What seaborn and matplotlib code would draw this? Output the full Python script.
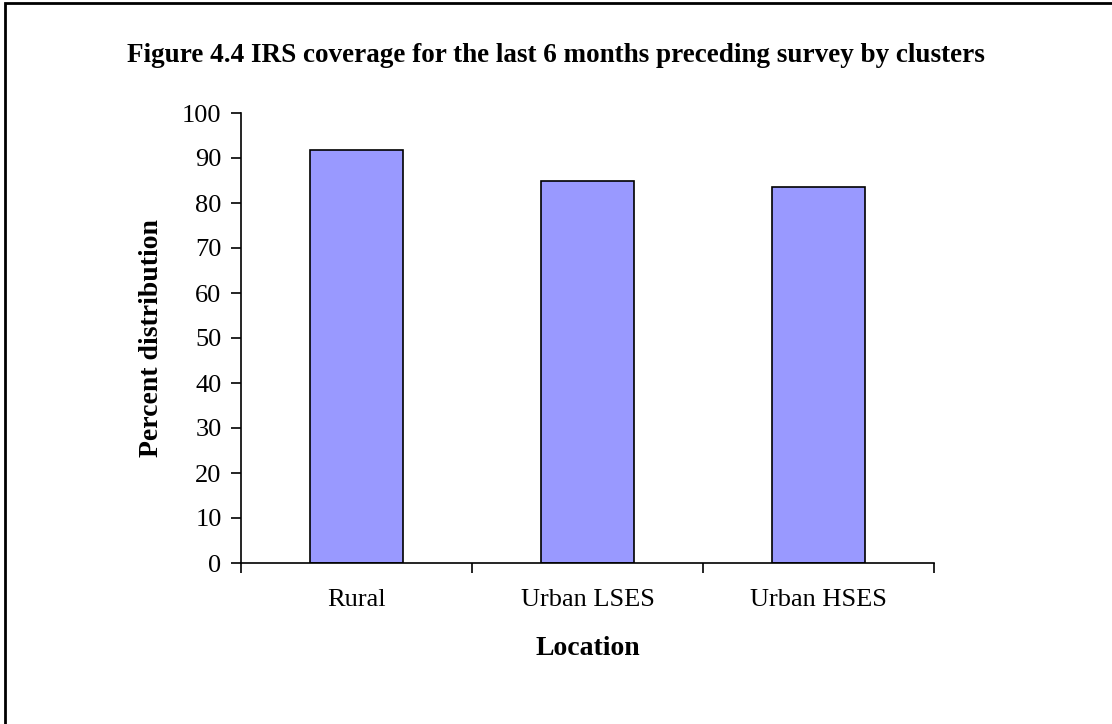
import matplotlib
matplotlib.use('Agg')
import matplotlib.pyplot as plt
import pandas as pd
import seaborn as sns
from matplotlib.patches import Rectangle

locations = ['Rural', 'Urban LSES', 'Urban HSES']
coverage = [91.8, 84.8, 83.6]
y_ticks = list(range(0, 101, 10))

df = pd.DataFrame({'Location': locations, 'Coverage': coverage})

sns.set_style('white')
plt.rcParams['font.family'] = ['Liberation Serif', 'DejaVu Serif']
plt.rcParams['text.color'] = 'black'
plt.rcParams['axes.labelcolor'] = 'black'
plt.rcParams['xtick.color'] = 'black'
plt.rcParams['ytick.color'] = 'black'

fig = plt.figure(figsize=(11.12, 7.24), dpi=100)
ax = fig.add_axes([241 / 1112, 1 - 563 / 724, (934 - 241) / 1112, (563 - 113) / 724])

sns.barplot(data=df, x='Location', y='Coverage', ax=ax, color='#9999ff',
            saturation=1, width=0.4, edgecolor='black', linewidth=1.2)

ax.set_xlim(-0.5, 2.5)
ax.set_ylim(0, 100)
ax.set_yticks(y_ticks)
ax.set_xticks([-0.5, 0.5, 1.5, 2.5], minor=False)
ax.set_xticklabels([])
ax.set_xticks([0, 1, 2], minor=True)
ax.set_xticklabels(locations, minor=True)
ax.tick_params(axis='x', which='minor', length=0, labelsize=19, pad=19)
ax.tick_params(axis='x', which='major', length=7, width=1.2, direction='out', bottom=True)
ax.tick_params(axis='y', length=7, width=1.2, direction='out', left=True, labelsize=19, pad=7)

for side in ['top', 'right']:
    ax.spines[side].set_visible(False)
for side in ['left', 'bottom']:
    ax.spines[side].set_linewidth(1.2)
    ax.spines[side].set_color('black')

ax.set_xlabel('Location', fontsize=20, fontweight='bold', labelpad=18)
ax.set_ylabel('Percent distribution', fontsize=20, fontweight='bold', labelpad=13)

fig.text(0.5, 1 - 55 / 724, 'Figure 4.4 IRS coverage for the last 6 months preceding survey by clusters',
         ha='center', va='center', fontsize=19.5, fontweight='bold')

# frame around the chart area (right and bottom edges fall outside the image)
fig.patches.append(Rectangle((5 / 1112, -0.1), 1.2, 1.1 - 3 / 724,
                             transform=fig.transFigure, fill=False,
                             edgecolor='black', linewidth=2, figure=fig))

fig.savefig('out.png', dpi=100)
